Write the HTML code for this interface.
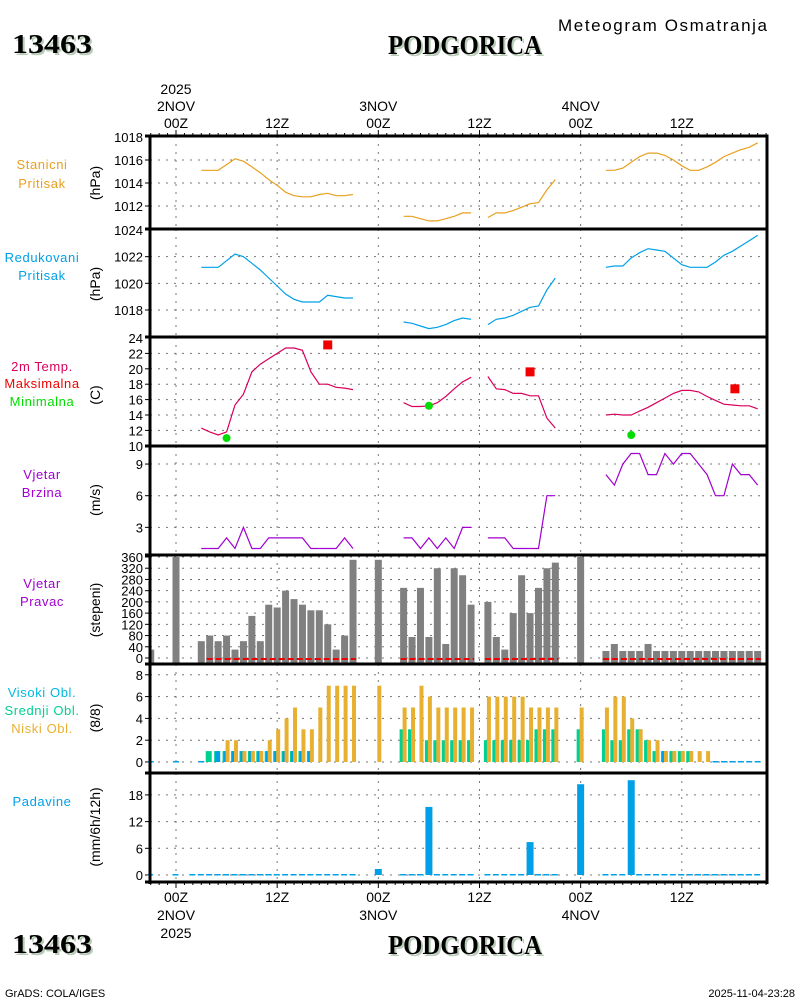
<!DOCTYPE html>
<html><head><meta charset="utf-8">
<style>
html,body{margin:0;padding:0;background:#fff;}
svg{display:block;font-family:"Liberation Sans",sans-serif;}
</style></head>
<body>
<svg id="chart" width="800" height="1000" viewBox="0 0 800 1000" xmlns="http://www.w3.org/2000/svg">
<g id="titles">
<text x="14" y="55" font-family="Liberation Serif,serif" font-weight="bold" font-size="27" fill="#b8ccb8" textLength="80" lengthAdjust="spacingAndGlyphs">13463</text>
<text x="12" y="53" font-family="Liberation Serif,serif" font-weight="bold" font-size="27" fill="#000" textLength="80" lengthAdjust="spacingAndGlyphs">13463</text>
<text x="390" y="56" font-family="Liberation Serif,serif" font-weight="bold" font-size="27" fill="#b8ccb8" textLength="154" lengthAdjust="spacingAndGlyphs">PODGORICA</text>
<text x="388" y="54" font-family="Liberation Serif,serif" font-weight="bold" font-size="27" fill="#000" textLength="154" lengthAdjust="spacingAndGlyphs">PODGORICA</text>
<text x="558" y="31" font-size="17" fill="#000" textLength="209" lengthAdjust="spacing">Meteogram Osmatranja</text>
<text x="14" y="955" font-family="Liberation Serif,serif" font-weight="bold" font-size="27" fill="#b8ccb8" textLength="80" lengthAdjust="spacingAndGlyphs">13463</text>
<text x="12" y="953" font-family="Liberation Serif,serif" font-weight="bold" font-size="27" fill="#000" textLength="80" lengthAdjust="spacingAndGlyphs">13463</text>
<text x="390" y="956" font-family="Liberation Serif,serif" font-weight="bold" font-size="27" fill="#b8ccb8" textLength="154" lengthAdjust="spacingAndGlyphs">PODGORICA</text>
<text x="388" y="954" font-family="Liberation Serif,serif" font-weight="bold" font-size="27" fill="#000" textLength="154" lengthAdjust="spacingAndGlyphs">PODGORICA</text>
<text x="5" y="997" font-size="11" fill="#000">GrADS: COLA/IGES</text>
<text x="795" y="997" text-anchor="end" font-size="11" fill="#000">2025-11-04-23:28</text>
</g>
</svg>
<script>
// ---- data (hours since 2025-11-02 00Z) ----
const timeTickHours = [0, 12, 24, 36, 48, 60];
const timeTickLabels = ["00Z", "12Z", "00Z", "12Z", "00Z", "12Z"];
const dayLabels = ["2NOV", "3NOV", "4NOV"];
const dayHours = [0, 24, 48];

const stanStarts = [3, 27, 37, 51];
const stanVals = [
  [1015.1,1015.1,1015.1,1015.6,1016.1,1015.9,1015.4,1014.9,1014.3,1013.8,1013.2,1012.9,1012.8,1012.8,1013.0,1013.1,1012.9,1012.9,1013.0],
  [1011.1,1011.1,1010.9,1010.7,1010.7,1010.9,1011.1,1011.4,1011.4],
  [1011.0,1011.4,1011.4,1011.6,1011.9,1012.2,1012.3,1013.4,1014.3],
  [1015.1,1015.1,1015.3,1015.8,1016.3,1016.6,1016.6,1016.4,1016.0,1015.5,1015.1,1015.1,1015.4,1015.8,1016.3,1016.6,1016.9,1017.1,1017.5]
];
const redStarts = [3, 27, 37, 51];
const redVals = [
  [1021.2,1021.2,1021.2,1021.7,1022.2,1022.0,1021.5,1021.0,1020.4,1019.8,1019.2,1018.8,1018.6,1018.6,1018.6,1019.1,1019.0,1018.9,1018.9],
  [1017.1,1017.0,1016.8,1016.6,1016.7,1016.9,1017.2,1017.4,1017.3],
  [1016.9,1017.3,1017.4,1017.6,1017.9,1018.2,1018.3,1019.5,1020.4],
  [1021.2,1021.3,1021.3,1021.9,1022.3,1022.6,1022.5,1022.4,1021.9,1021.4,1021.2,1021.2,1021.2,1021.6,1022.1,1022.4,1022.8,1023.2,1023.6]
];
const tempStarts = [3, 27, 37, 51];
const tempVals = [
  [12.3,11.8,11.4,11.8,15.3,16.7,19.6,20.6,21.3,22.0,22.7,22.7,22.4,19.6,18.0,18.0,17.6,17.5,17.3],
  [15.6,15.1,15.1,15.2,15.6,16.4,17.4,18.3,18.9],
  [19.0,17.4,17.3,16.8,16.8,16.5,16.5,13.6,12.3],
  [14.0,14.1,14.0,14.0,14.5,15.0,15.6,16.2,16.8,17.2,17.2,17.0,16.4,15.9,15.4,15.3,15.2,15.2,14.8]
];
const tmaxHours = [18, 42, 66.3];
const tmaxVals = [23.1, 19.6, 17.4];
const tminHours = [6, 30, 54];
const tminVals = [11.0, 15.2, 11.4];

const windStarts = [3, 27, 37, 51];
const windVals = [
  [1,1,1,2,1,3,1,1,2,2,2,2,2,1,1,1,1,2,1],
  [2,2,1,2,1,2,1,3,3],
  [2,2,2,1,1,1,1,6,6],
  [8,7,9,10,10,8,8,10,9,10,10,9,8,6,6,9,8,8,7]
];

const dirStarts = [-3, 0, 3, 24, 27, 37, 48, 51];
const dirVals = [
  [30],[360],
  [60,80,60,80,30,60,150,60,190,180,240,210,190,170,170,120,30,80,350],
  [350],
  [250,75,250,75,320,50,320,295,190],
  [200,75,30,160,295,160,250,320,340],
  [360],
  [25,50,25,25,25,50,25,25,25,25,25,25,25,25,25,25,25,25,25]
];
const calmStarts = [4, 27, 37, 51];
const calmEnds = [21, 35, 45, 69];

const cloudStarts = [-3, 0, 3, 24, 27, 37, 48, 51];
const cloudHigh = [
  [0],[0],
  [0,0,1,1,1,1,1,1,1,1,1,1,1,1,0,0,0,0,0],
  [0],
  [0,0,0,0,0,0,0,0,0],
  [0,0,0,0,0,0,0,0,0],
  [0],
  [0,0,0,0,0,0,0,1,0,0,0,0,0,0,0,0,0,0,0]
];
const cloudMid = [
  [0],[0],
  [0,1,1,1,1,1,1,1,1,1,1,1,1,1,0,0,0,0,0],
  [0],
  [3,3,0,2,2,2,2,2,2],
  [2,2,2,2,2,2,3,3,3],
  [3],
  [3,2,2,3,3,2,1,1,1,1,1,0,0,0,0,0,0,0,0]
];
const cloudLow = [
  [0],[0],
  [0,0,0,2,2,1,1,1,2,3,4,5,3,3,5,7,7,7,7],
  [7],
  [5,5,7,6,5,5,5,5,5],
  [6,6,6,6,6,5,5,5,5],
  [5],
  [5,6,6,4,3,2,2,1,1,1,1,1,1,0,0,0,0,0,0]
];

const precStarts = [-3, 0, 2, 24, 27, 37, 48, 51];
const precVals = [
  [0],[0],
  [0,0,0,0,0,0,0,0,0,0,0,0,0,0,0,0,0,0,0,0],
  [1.35],
  [0,0,0,15.3,0,0,0,0,0],
  [0,0,0,0,0,7.4,0,0,0],
  [20.4],
  [0,0,0,21.3,0,0,0,0,0,0,0,0,0,0,0,0,0,0,0]
];

// ---- layout ----
const NS = "http://www.w3.org/2000/svg";
const svg = document.getElementById("chart");
const X0 = 150, X1 = 767;
function xh(h){ return 176 + h * 8.43; }
function mk(tag, attrs, parent){
  const e = document.createElementNS(NS, tag);
  for (const k in attrs) e.setAttribute(k, attrs[k]);
  (parent || svg).appendChild(e);
  return e;
}
function txt(s, x, y, attrs, parent){
  const e = mk("text", Object.assign({x:x, y:y, "font-size":13, fill:"#000"}, attrs), parent);
  e.textContent = s;
  return e;
}
const panels = [
  {name:"station-pressure", top:136, bot:229, v0:1018, y0:137, k:11.5, ticks:[1012,1014,1016,1018], grid:[1012,1014,1016]},
  {name:"reduced-pressure", top:229, bot:337, v0:1024, y0:230, k:13.33, ticks:[1018,1020,1022,1024], grid:[1018,1020,1022]},
  {name:"temperature", top:337, bot:446, v0:24, y0:338, k:7.7, ticks:[10,12,14,16,18,20,22,24], grid:[12,14,16,18,20,22]},
  {name:"wind-speed", top:446, bot:555, v0:0, y0:559, k:10.55, ticks:[3,6,9], grid:[3,6,9]},
  {name:"wind-direction", top:555, bot:664, v0:0, y0:658, k:101/360, ticks:[0,40,80,120,160,200,240,280,320,360], grid:[0,40,80,120,160,200,240,280,320,360]},
  {name:"cloud-cover", top:664, bot:773, v0:0, y0:762, k:10.9, ticks:[0,2,4,6,8], grid:[0,2,4,6,8]},
  {name:"precipitation", top:773, bot:882, v0:0, y0:875, k:4.45, ticks:[0,6,12,18], grid:[0,6,12,18]}
];
function yv(p, v){ return p.y0 - (v - p.v0) * p.k; }

panels.forEach(p => {
  const g = mk("g", {});
  
  
  p.g = g;
  p.grid.forEach(v => {
    const l = mk("line", {x1:X0, x2:X1, y1:yv(p,v), y2:yv(p,v), stroke:"#777", "stroke-width":1, "stroke-dasharray":"2,6"}, g);
    
    
  });
  timeTickHours.forEach(h => {
    const l = mk("line", {x1:xh(h), x2:xh(h), y1:p.top, y2:p.bot, stroke:"#777", "stroke-width":1, "stroke-dasharray":"2,6"}, g);
    
    
  });
  p.ticks.forEach(v => {
    const y = yv(p, v);
    mk("line", {x1:145, x2:150, y1:y, y2:y, stroke:"#000"}, g);
    const t = txt(String(v), 143, y + 5, {"text-anchor":"end", "font-size":13}, g);
    
    
  });
});

function expand(starts, vals){
  const out = [];
  starts.forEach((s, i) => { vals[i].forEach((v, j) => out.push([s + j, v])); });
  return out;
}
function drawLines(p, starts, vals, color, name){
  starts.forEach((s, i) => {
    const pts = vals[i].map((v, j) => xh(s + j).toFixed(1) + "," + yv(p, v).toFixed(1)).join(" ");
    const pl = mk("polyline", {points:pts, fill:"none", stroke:color, "stroke-width":1.2}, p.g);
    
    
  });
}
drawLines(panels[0], stanStarts, stanVals, "#e8a020", "station-pressure-line");
drawLines(panels[1], redStarts, redVals, "#00a0e8", "reduced-pressure-line");
drawLines(panels[2], tempStarts, tempVals, "#d8005a", "temperature-line");
drawLines(panels[3], windStarts, windVals, "#a000d0", "wind-speed-line");

tmaxHours.forEach((h, i) => {
  const r = mk("rect", {x:xh(h)-4.5, y:yv(panels[2], tmaxVals[i])-4.5, width:9, height:9, fill:"#f00000"}, panels[2].g);
  
  
});
tminHours.forEach((h, i) => {
  const c = mk("circle", {cx:xh(h), cy:yv(panels[2], tminVals[i]), r:4, fill:"#00dd00"}, panels[2].g);
  
  
});

const pd = panels[4];
expand(dirStarts, dirVals).forEach(([h, v]) => {
  const x = Math.max(X0, xh(h) - 3.5);
  const w = xh(h) + 3.5 - x;
  const r = mk("rect", {x:x, y:yv(pd, v), width:w, height:pd.bot - yv(pd, v), fill:"#808080"}, pd.g);
  
  
});
calmStarts.forEach((s, i) => {
  const l = mk("line", {x1:xh(s)-3, x2:xh(calmEnds[i])+3, y1:659, y2:659, stroke:"#f00000", "stroke-width":2, "stroke-dasharray":"6,3"}, pd.g);
  
  
});

const pc = panels[5];
const hi = expand(cloudStarts, cloudHigh), mi = expand(cloudStarts, cloudMid), lo = expand(cloudStarts, cloudLow);
hi.forEach(([h, v], i) => {
  const x = xh(h);
  const m = mi[i][1], l = lo[i][1];
  if (m > 0) {
    const r = mk("rect", {x:x-4, y:yv(pc, m), width:6, height:762 - yv(pc, m), fill:"#00d090"}, pc.g);
    
    
  }
  if (v > 0) {
    const r = mk("rect", {x:x-3, y:yv(pc, v), width:5, height:762 - yv(pc, v), fill:"#00a0e8"}, pc.g);
    
    
  }
  if (l > 0) {
    const r = mk("rect", {x:x-1, y:yv(pc, l), width:4, height:762 - yv(pc, l), fill:"#e8b030"}, pc.g);
    
    
  }
  if (v === 0 && m === 0 && l === 0) {
    const r = mk("rect", {x:x-3, y:761, width:6, height:1.5, fill:"#00a0e8"}, pc.g);
    
    
  }
});

const pp = panels[6];
expand(precStarts, precVals).forEach(([h, v]) => {
  const x = xh(h);
  if (v > 0) {
    const r = mk("rect", {x:x-3.5, y:yv(pp, v), width:7, height:875 - yv(pp, v), fill:"#00a0e8"}, pp.g);
    
    
  } else {
    const r = mk("rect", {x:x-3.5, y:874, width:6, height:1.5, fill:"#00a0e8"}, pp.g);
    
    
  }
});

const fr = mk("g", {});


[136,229,337,446,555,664,773,882].forEach(y => mk("line", {x1:145, x2:768.5, y1:y, y2:y, stroke:"#000", "stroke-width":3}, fr));
mk("line", {x1:150, x2:150, y1:135, y2:884, stroke:"#000", "stroke-width":3}, fr);
mk("line", {x1:767, x2:767, y1:135, y2:884, stroke:"#000", "stroke-width":3}, fr);
for (let h = -3; h <= 70; h++) {
  const x = xh(h); if (x < X0 || x > X1) continue;
  const len = (h % 12 === 0) ? 6 : 3;
  mk("line", {x1:x, x2:x, y1:136-len, y2:136, stroke:"#000"}, fr);
  mk("line", {x1:x, x2:x, y1:882, y2:882+len, stroke:"#000"}, fr);
}

timeTickHours.forEach((h, i) => {
  const t1 = txt(timeTickLabels[i], xh(h), 128, {"text-anchor":"middle", "font-size":14});
  
  
  const t2 = txt(timeTickLabels[i], xh(h), 902, {"text-anchor":"middle", "font-size":14});
  
  
});
dayHours.forEach((h, i) => {
  const t1 = txt(dayLabels[i], xh(h), 111, {"text-anchor":"middle", "font-size":14});
  
  
  const t2 = txt(dayLabels[i], xh(h), 920, {"text-anchor":"middle", "font-size":14});
  
  
});
const y1 = txt("2025", xh(0), 94, {"text-anchor":"middle", "font-size":14});


const y2 = txt("2025", xh(0), 938, {"text-anchor":"middle", "font-size":14});



const leftLabels = [
  ["Stanicni", 169, "#e8a020"], ["Pritisak", 188, "#e8a020"],
  ["Redukovani", 262, "#00a0e8"], ["Pritisak", 280, "#00a0e8"],
  ["2m Temp.", 371, "#d8005a"], ["Maksimalna", 388, "#f00000"], ["Minimalna", 406, "#00dd00"],
  ["Vjetar", 479, "#a000d0"], ["Brzina", 497, "#a000d0"],
  ["Vjetar", 588, "#a000d0"], ["Pravac", 606, "#a000d0"],
  ["Visoki Obl.", 697, "#00b8e0"], ["Srednji Obl.", 715, "#00d090"], ["Niski Obl.", 733, "#e8b030"],
  ["Padavine", 806, "#00a0e8"]
];
leftLabels.forEach(([s, y, c]) => {
  const t = txt(s, 42, y, {"text-anchor":"middle", "font-size":13, fill:c, "letter-spacing":"0.6"});
  
  
});
const unitLabels = [["(hPa)", 183], ["(hPa)", 284], ["(C)", 395], ["(m/s)", 500], ["(stepeni)", 610], ["(8/8)", 718], ["(mm/6h/12h)", 827]];
unitLabels.forEach(([s, y]) => {
  const t = txt(s, 0, 0, {"text-anchor":"middle", "font-size":14, transform:"translate(100," + y + ") rotate(-90)"});
  
  
});
</script>
</body></html>
